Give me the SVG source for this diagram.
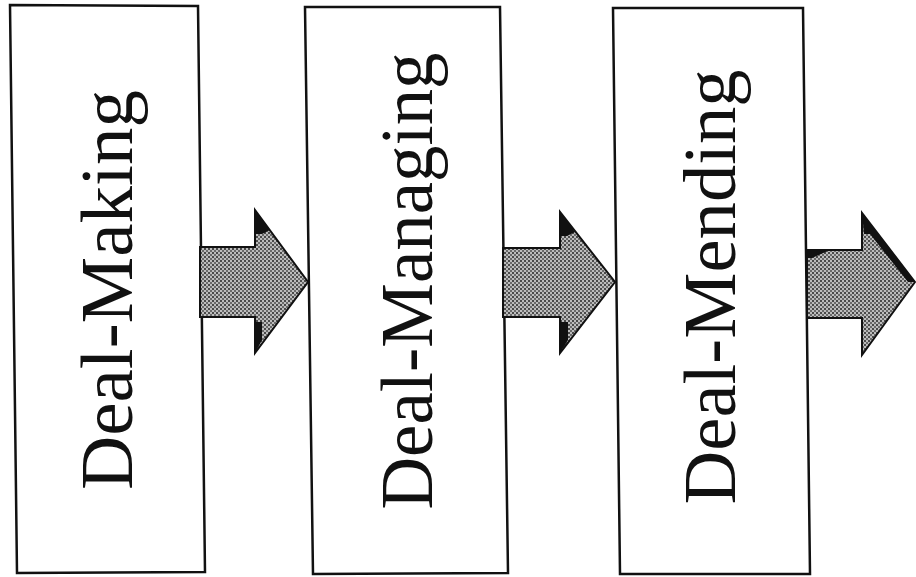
<svg xmlns="http://www.w3.org/2000/svg" width="916" height="577" viewBox="0 0 916 577">
<defs>
<pattern id="stip" width="4" height="4" patternUnits="userSpaceOnUse">
<rect width="4" height="4" fill="#bcbcbc"/>
<rect x="0" y="0" width="2" height="2" fill="#4a4a4a"/>
<rect x="2" y="2" width="2" height="2" fill="#6a6a6a"/>
</pattern>
<style>
.box{fill:#fff;stroke:#111;stroke-width:2.5;stroke-linejoin:miter}
.lbl{font-family:"Liberation Serif","Times New Roman",serif;font-size:75px;fill:#111;text-anchor:middle}
.arr{fill:url(#stip);stroke:#111;stroke-width:2;stroke-linejoin:miter}
.shade{fill:#111}
</style>
</defs>
<rect width="916" height="577" fill="#fff"/>
<g id="node1">
<polygon class="box" points="10,5 198,6 205,572 17,573"/>
<text class="lbl" transform="translate(132,290) rotate(-90)">Deal-Making</text>
</g>
<g id="node2">
<polygon class="box" points="305,7 500,7 508,573 313,574"/>
<text class="lbl" transform="translate(432,281) rotate(-90)" textLength="457" lengthAdjust="spacingAndGlyphs">Deal-Managing</text>
</g>
<g id="node3">
<polygon class="box" points="613,8 803,8 810,574 620,574"/>
<text class="lbl" transform="translate(735,287) rotate(-90)" textLength="435" lengthAdjust="spacingAndGlyphs">Deal-Mending</text>
</g>
<g id="connectors">
<g id="arrow1">
<polygon class="arr" points="200,247 255,247 255,210 308,282 255,353 255,317 200,317"/>
<polygon class="shade" points="255,210 270,230 262,234 256,234"/>
<polygon class="shade" points="255,353 262,340 262,322 256,322"/>
</g>
<g id="arrow2">
<polygon class="arr" points="503,248 560,248 560,212 615,282 560,353 560,317 503,317"/>
<polygon class="shade" points="560,212 575,232 567,236 561,236"/>
<polygon class="shade" points="560,353 568,340 568,322 561,322"/>
</g>
<g id="arrow3">
<polygon class="arr" points="807,250 862,250 862,213 915,282 862,355 862,318 807,318"/>
<polygon class="shade" points="862,213 915,282 908,282 870,234 864,234"/>
<polygon class="shade" points="808,250 830,250 812,258 808,258"/>
</g>
</g>
</svg>
